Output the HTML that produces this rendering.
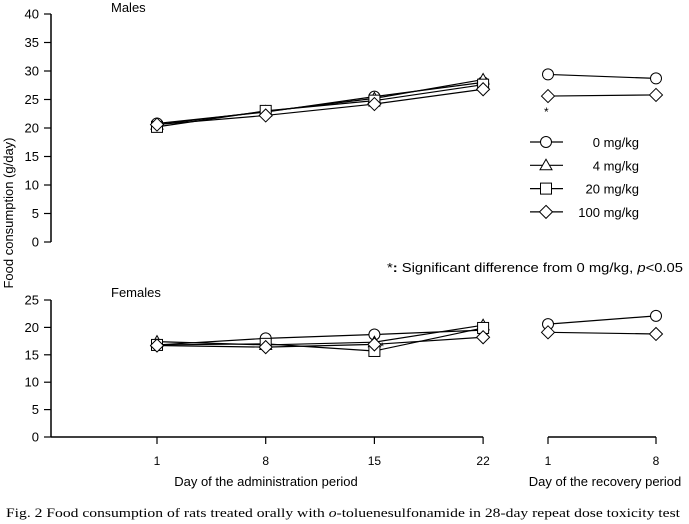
<!DOCTYPE html>
<html><head><meta charset="utf-8"><style>
body{margin:0;background:#fff;}
svg{display:block;font-family:"Liberation Sans",sans-serif;}
</style></head><body>
<svg id="c" width="689" height="524" viewBox="0 0 689 524"></svg>
<script>
const days=["1","8","15","22"];
const recDays=["1","8"];
const maleYTicks=[0,5,10,15,20,25,30,35,40];
const femYTicks=[0,5,10,15,20,25];
const m0=[20.8,22.8,25.5,28.0];
const m4=[20.6,22.9,25.2,28.5];
const m20=[20.2,23.0,24.8,27.6];
const m100=[20.6,22.2,24.2,26.8];
const mRec0=[29.4,28.7];
const mRec100=[25.6,25.8];
const f0=[16.8,18.0,18.7,19.5];
const f4=[17.4,16.8,17.3,20.4];
const f20=[16.8,17.0,15.7,19.9];
const f100=[16.7,16.4,16.9,18.2];
const fRec0=[20.6,22.1];
const fRec100=[19.1,18.8];
const legendLabels=["0 mg/kg","4 mg/kg","20 mg/kg","100 mg/kg"];

const NS="http://www.w3.org/2000/svg";
const svg=document.getElementById('c');
function el(t,a,p){const e=document.createElementNS(NS,t);for(const k in a)e.setAttribute(k,a[k]);(p||svg).appendChild(e);return e;}
function txt(s,x,y,a){const e=el('text',Object.assign({x:x,y:y,'font-size':12,fill:'#000'},a||{}));e.textContent=s;return e;}
const xAdm=i=>157+i*108.7;
const xRec=i=>548+i*108;
const yM=v=>242-v*5.7;
const yF=v=>437-v*5.48;

function marker(type,x,y,g){
  const a={fill:'#fff',stroke:'#000','stroke-width':1};
  let e;
  if(type==0)e=el('circle',Object.assign({cx:x,cy:y,r:5.5},a),g);
  else if(type==1)e=el('polygon',Object.assign({points:`${x},${y-6} ${x-6},${y+4.5} ${x+6},${y+4.5}`},a),g);
  else if(type==2)e=el('rect',Object.assign({x:x-5.5,y:y-5.5,width:11,height:11},a),g);
  else e=el('polygon',Object.assign({points:`${x},${y-6.5} ${x+6.5},${y} ${x},${y+6.5} ${x-6.5},${y}`},a),g);
  
  
}
function series(vals,xf,yf,type,name){
  const g=el('g',{});
  
  
  el('polyline',{points:vals.map((v,i)=>xf(i)+','+yf(v)).join(' '),fill:'none',stroke:'#000','stroke-width':1.2},g);
  vals.forEach((v,i)=>marker(type,xf(i),yf(v),g));
}
function yaxis(ticks,yf,name){
  const g=el('g',{});
  
  
  el('line',{x1:51,x2:51,y1:yf(ticks[ticks.length-1]),y2:yf(0),stroke:'#000','stroke-width':1.5},g);
  ticks.forEach(t=>{el('line',{x1:44,x2:51,y1:yf(t),y2:yf(t),stroke:'#000','stroke-width':1.2},g);
    const e=txt(String(t),39,yf(t)+4.5,{'text-anchor':'end','font-size':13});g.appendChild(e);});
}
yaxis(maleYTicks,yM,'males-y-axis');
yaxis(femYTicks,yF,'females-y-axis');
const xa=el('g',{});


el('line',{x1:51,x2:xAdm(3),y1:437,y2:437,stroke:'#000','stroke-width':1.5},xa);
days.forEach((d,i)=>{el('line',{x1:xAdm(i),x2:xAdm(i),y1:437,y2:444,stroke:'#000','stroke-width':1.2},xa);xa.appendChild(txt(d,xAdm(i),465,{'text-anchor':'middle'}));});
const xr=el('g',{});


el('line',{x1:xRec(0),x2:xRec(1),y1:437,y2:437,stroke:'#000','stroke-width':1.5},xr);
recDays.forEach((d,i)=>{el('line',{x1:xRec(i),x2:xRec(i),y1:437,y2:444,stroke:'#000','stroke-width':1.2},xr);xr.appendChild(txt(d,xRec(i),465,{'text-anchor':'middle'}));});

series(m0,xAdm,yM,0,'males-0mg');
series(m4,xAdm,yM,1,'males-4mg');
series(m20,xAdm,yM,2,'males-20mg');
series(m100,xAdm,yM,3,'males-100mg');
series(mRec0,xRec,yM,0,'males-recovery-0mg');
series(mRec100,xRec,yM,3,'males-recovery-100mg');
series(f0,xAdm,yF,0,'females-0mg');
series(f4,xAdm,yF,1,'females-4mg');
series(f20,xAdm,yF,2,'females-20mg');
series(f100,xAdm,yF,3,'females-100mg');
series(fRec0,xRec,yF,0,'females-recovery-0mg');
series(fRec100,xRec,yF,3,'females-recovery-100mg');

txt('*',544,116,{'font-size':12});
txt('*',380,350,{'font-size':11});

legendLabels.forEach((l,i)=>{
  const y=142+i*23.3;
  const g=el('g',{});
  
  
  el('line',{x1:530,x2:563,y1:y,y2:y,stroke:'#000','stroke-width':1.2},g);
  marker(i,546,y,g);
  g.appendChild(txt(l,639,y+5,{'text-anchor':'end','font-size':13}));
});
txt('Males',111,12,{'font-size':13});
txt('Females',111,297,{'font-size':13});
const sn=txt('',387,272,{'font-size':12.5,textLength:296,lengthAdjust:'spacingAndGlyphs'});

sn.innerHTML='*<tspan font-weight="bold">:</tspan> Significant difference from 0 mg/kg, <tspan font-style="italic">p</tspan>&lt;0.05';
const yt=txt('Food consumption (g/day)',0,0,{'font-size':13,'text-anchor':'middle',transform:'translate(13,213) rotate(-90)'});

txt('Day of the administration period',266,486,{'text-anchor':'middle','font-size':13});
txt('Day of the recovery period',605,486,{'text-anchor':'middle','font-size':13});
const cap=txt('',6,517,{'font-size':13,'font-family':'"Liberation Serif",serif',textLength:674,lengthAdjust:'spacingAndGlyphs'});

cap.innerHTML='Fig. 2   Food consumption of rats treated orally with <tspan font-style="italic">o</tspan>-toluenesulfonamide in 28-day repeat dose toxicity test';
</script>
</body></html>
